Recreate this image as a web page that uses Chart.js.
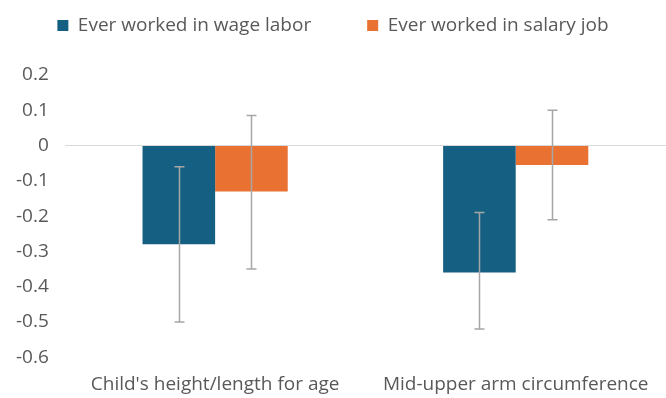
<!DOCTYPE html>
<html>
<head>
<meta charset="utf-8">
<script src="https://cdn.jsdelivr.net/npm/chart.js@4/dist/chart.umd.min.js"></script>
<style>
  html, body { margin: 0; padding: 0; background: #fff; }
  #wrap { width: 666px; height: 398px; }
</style>
</head>
<body>
<div id="wrap"><canvas id="myChart"></canvas></div>
<script>
var categories = ["Child's height/length for age", 'Mid-upper arm circumference'];
var wageValues = [-0.28, -0.36];
var wageLow = [-0.50, -0.52];
var wageHigh = [-0.06, -0.19];
var salaryValues = [-0.13, -0.055];
var salaryLow = [-0.35, -0.21];
var salaryHigh = [0.085, 0.10];
var seriesNames = ['Ever worked in wage labor', 'Ever worked in salary job'];

// draws the whiskers on top of the bars
var errorBars = {
    id: 'errorBars',
    afterDatasetsDraw: function (chart) {
        var ctx = chart.ctx;
        var y = chart.scales.y;
        ctx.save();
        ctx.strokeStyle = '#a6a6a6';
        ctx.lineWidth = 1.5;
        chart.data.datasets.forEach(function (ds, i) {
            var meta = chart.getDatasetMeta(i);
            meta.data.forEach(function (bar, j) {
                var x = Math.round(bar.x) + 0.5;
                var top = y.getPixelForValue(ds.high[j]);
                var bot = y.getPixelForValue(ds.low[j]);
                ctx.beginPath();
                ctx.moveTo(x, top);
                ctx.lineTo(x, bot);
                ctx.moveTo(x - 5, top);
                ctx.lineTo(x + 5, top);
                ctx.moveTo(x - 5, bot);
                ctx.lineTo(x + 5, bot);
                ctx.stroke();
            });
        });
        ctx.restore();
    }
};

var font = { family: 'Open Sans', size: 19 };

var ctx = document.getElementById('myChart').getContext('2d');
new Chart(ctx, {
    type: 'bar',
    data: {
        labels: categories,
        datasets: [{
            label: seriesNames[0],
            data: wageValues,
            low: wageLow,
            high: wageHigh,
            backgroundColor: '#156082',
            categoryPercentage: 0.483,
            barPercentage: 1
        }, {
            label: seriesNames[1],
            data: salaryValues,
            low: salaryLow,
            high: salaryHigh,
            backgroundColor: '#E97132',
            categoryPercentage: 0.483,
            barPercentage: 1
        }]
    },
    options: {
        responsive: true,
        maintainAspectRatio: false,
        animation: false,
        layout: { padding: { top: -40, left: 0, right: 0, bottom: -14 } },
        plugins: {
            legend: {
                position: 'top',
                labels: {
                    boxWidth: 11,
                    boxHeight: 11,
                    padding: 56,
                    color: '#595959',
                    font: font
                }
            },
            // empty spacer between legend and plot
            subtitle: {
                display: true,
                text: '',
                weight: 500,
                font: { size: 10, lineHeight: 1 },
                padding: { top: 0, bottom: 20 }
            },
            tooltip: { enabled: false }
        },
        scales: {
            x: {
                grid: { display: false, drawTicks: false },
                border: { display: false },
                ticks: { color: '#595959', font: font, padding: 16 }
            },
            y: {
                min: -0.6,
                max: 0.2,
                border: { display: false },
                grid: {
                    drawTicks: false,
                    color: function (c) { return Math.abs(c.tick.value) < 1e-9 ? '#d9d9d9' : 'rgba(0,0,0,0)'; }
                },
                ticks: {
                    stepSize: 0.1,
                    padding: 16,
                    color: '#595959',
                    font: font,
                    callback: function (v) {
                        var r = Math.round(v * 10) / 10;
                        return r === 0 ? '0' : r.toString();
                    }
                }
            }
        }
    },
    plugins: [errorBars]
});
</script>
</body>
</html>
